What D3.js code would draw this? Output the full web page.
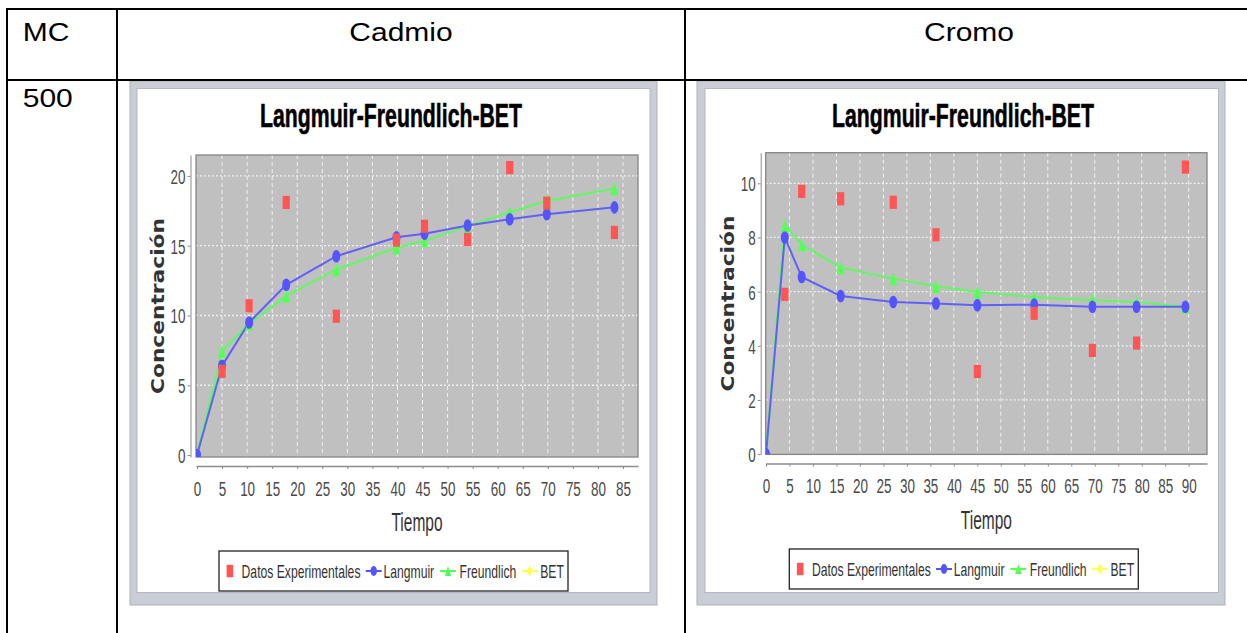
<!DOCTYPE html>
<html><head><meta charset="utf-8">
<script src="https://cdn.jsdelivr.net/npm/d3@7"></script>
<style>html,body{margin:0;padding:0;background:#fff;overflow:hidden}</style>
</head><body><svg id="c" width="1247" height="633"></svg>
<script>
// ---------- data ----------
const tiempoCd = [0, 5, 10.4, 17.8, 27.8, 39.8, 45.4, 54, 62.4, 69.8, 83.3];
const langmuirCd = [0, 6.4, 9.5, 12.2, 14.25, 15.6, 15.85, 16.45, 16.9, 17.25, 17.75];
const freundlichCd = [0, 7.45, 9.4, 11.4, 13.3, 14.85, 15.35, 16.4, 17.4, 18.2, 19.1];
const expTiempoCd = [5, 10.4, 17.8, 27.8, 39.8, 45.4, 54, 62.4, 69.8, 83.3];
const expCd = [6.0, 10.7, 18.1, 9.95, 15.4, 16.4, 15.45, 20.6, 18.05, 15.95];
const betCd = [];

const tiempoCr = [0, 4, 7.6, 15.9, 27.1, 36.2, 45, 57.1, 69.5, 78.9, 89.3];
const langmuirCr = [0, 8.0, 6.54, 5.84, 5.62, 5.56, 5.5, 5.52, 5.44, 5.44, 5.44];
const freundlichCr = [0, 8.45, 7.74, 6.89, 6.48, 6.2, 5.99, 5.8, 5.68, 5.62, 5.44];
const expTiempoCr = [4, 7.6, 15.9, 27.1, 36.2, 45, 57.1, 69.5, 78.9, 89.3];
const expCr = [5.9, 9.7, 9.43, 9.3, 8.1, 3.05, 5.2, 3.83, 4.1, 10.6];
const betCr = [];

const xTicksCd = [0, 5, 10, 15, 20, 25, 30, 35, 40, 45, 50, 55, 60, 65, 70, 75, 80, 85];
const yTicksCd = [0, 5, 10, 15, 20];
const xTicksCr = [0, 5, 10, 15, 20, 25, 30, 35, 40, 45, 50, 55, 60, 65, 70, 75, 80, 85, 90];
const yTicksCr = [0, 2, 4, 6, 8, 10];

const legendLabels = ["Datos Experimentales", "Langmuir", "Freundlich", "BET"];
const headerLabels = ["MC", "Cadmio", "Cromo"];
const rowLabels = ["500"];
const chartTitle = "Langmuir-Freundlich-BET";
const xLabel = "Tiempo";
const yLabel = "Concentración";

const COLORS = {exp: "#ff5555", lang: "#5555ff", fre: "#55ff55", bet: "#ffff55"};

// ---------- page ----------
const svg = d3.select("#c");
svg.append("rect").attr("width", 1247).attr("height", 633).attr("fill", "#fff");

function squash(sel, sx, dx, dy) {
  sel.attr("x", null).attr("y", null).attr("dy", null)
     .attr("transform", `translate(${dx},${dy}) scale(${sx},1)`);
}

// table text
const tf = "'Liberation Sans', Arial, sans-serif";
const hdr = [
  {t: headerLabels[0], x: 22.7, y: 40.5, a: "start"},
  {t: headerLabels[1], x: 401, y: 40.5, a: "middle"},
  {t: headerLabels[2], x: 969, y: 40.5, a: "middle"},
  {t: rowLabels[0], x: 22.7, y: 107, a: "start"}
];
hdr.forEach(h => {
  svg.append("text").text(h.t).attr("font-family", tf).attr("font-size", 25)
    .attr("fill", "#000").attr("text-anchor", h.a)
    .attr("transform", `translate(${h.x},${h.y}) scale(1.2,1)`);
});

function drawChart(cfg) {
  const g = svg.append("g");
  const F = cfg.frame, P = cfg.plot;
  // frame
  g.append("rect").attr("x", F.x0).attr("y", F.y0).attr("width", F.x1 - F.x0).attr("height", F.y1 - F.y0)
    .attr("fill", "#c9cdd5").attr("stroke", "#aeb2ba").attr("stroke-width", 1);
  g.append("rect").attr("x", F.wx0).attr("y", F.wy0).attr("width", F.wx1 - F.wx0).attr("height", F.wy1 - F.wy0)
    .attr("fill", "#fff").attr("stroke", "#b4b8c0").attr("stroke-width", 1);

  const x = d3.scaleLinear().domain(cfg.xDom).range([P.l, P.r]);
  const y = d3.scaleLinear().domain(cfg.yDom).range([P.b, P.t]);

  // title
  g.append("text").text(chartTitle).attr("x", cfg.titleX).attr("y", 126.5)
    .attr("text-anchor", "middle").attr("font-family", "'Liberation Sans', Arial, sans-serif")
    .attr("font-weight", "bold").attr("font-size", 33).attr("fill", "#000")
    .attr("stroke", "#000").attr("stroke-width", 0.6)
    .attr("textLength", 262).attr("lengthAdjust", "spacingAndGlyphs");

  // plot background
  g.append("rect").attr("x", P.l).attr("y", P.t).attr("width", P.r - P.l).attr("height", P.b - P.t)
    .attr("fill", "#c0c0c0");
  // grid
  g.append("g").selectAll("line").data(cfg.xTicks.filter(d => x(d) > P.l + 2 && x(d) < P.r - 2)).join("line")
    .attr("x1", d => x(d)).attr("x2", d => x(d)).attr("y1", P.t).attr("y2", P.b)
    .attr("stroke", "#f0f0f0").attr("stroke-width", 1).attr("stroke-dasharray", "4,3");
  g.append("g").selectAll("line").data(cfg.yTicks.filter(d => y(d) > P.t + 2 && y(d) < P.b - 2)).join("line")
    .attr("x1", P.l).attr("x2", P.r).attr("y1", d => y(d)).attr("y2", d => y(d))
    .attr("stroke", "#f0f0f0").attr("stroke-width", 1.3).attr("stroke-dasharray", "2,2");
  g.append("rect").attr("x", P.l).attr("y", P.t).attr("width", P.r - P.l).attr("height", P.b - P.t)
    .attr("fill", "none").attr("stroke", "#858585").attr("stroke-width", 1.3);

  // axes
  const ya = g.append("g").attr("transform", `translate(${cfg.yAxisX},0)`)
    .call(d3.axisLeft(y).tickValues(cfg.yTicks).tickSize(3).tickSizeOuter(0).tickFormat(d3.format("d")));
  ya.attr("font-family", "'Liberation Sans', Arial, sans-serif").attr("font-size", 21);
  ya.select(".domain").attr("stroke", "#8c8c8c");
  ya.selectAll(".tick line").attr("stroke", "#8c8c8c");
  ya.selectAll(".tick text").attr("fill", "#4a4a4a").attr("text-anchor", "end")
    .call(s => squash(s, 0.64, -5, 7.5));

  const xa = g.append("g").attr("transform", `translate(0,${cfg.xAxisY})`)
    .call(d3.axisBottom(x).tickValues(cfg.xTicks).tickSize(3).tickSizeOuter(0).tickFormat(d3.format("d")));
  xa.attr("font-family", "'Liberation Sans', Arial, sans-serif").attr("font-size", 21);
  xa.select(".domain").attr("stroke", "#8c8c8c").attr("stroke-width", 1.7);
  xa.selectAll(".tick line").attr("stroke", "#8c8c8c");
  xa.selectAll(".tick text").attr("fill", "#4a4a4a").attr("text-anchor", "middle")
    .call(s => squash(s, 0.64, 0, 29.5));

  // axis labels
  g.append("text").text(xLabel).attr("font-family", "'Liberation Sans', Arial, sans-serif")
    .attr("font-size", 25).attr("fill", "#333").attr("text-anchor", "middle")
    .attr("transform", `translate(${(P.l + P.r) / 2},${cfg.xLabelY}) scale(0.62,1)`);
  g.append("text").text(yLabel).attr("font-family", "'DejaVu Sans', sans-serif")
    .attr("font-weight", "bold").attr("font-size", 17).attr("fill", "#333").attr("text-anchor", "middle")
    .attr("textLength", 176).attr("lengthAdjust", "spacingAndGlyphs")
    .attr("transform", `translate(${cfg.yLabelX},${(P.t + P.b) / 2}) rotate(-90)`);

  // clip
  const cid = "clip" + cfg.id;
  svg.append("clipPath").attr("id", cid).append("rect")
    .attr("x", P.l).attr("y", P.t).attr("width", P.r - P.l).attr("height", P.b - P.t);
  const pg = g.append("g").attr("clip-path", `url(#${cid})`);

  const line = d3.line().x(d => x(d[0])).y(d => y(d[1]));
  const fre = cfg.tiempo.map((t, i) => [t, cfg.fre[i]]);
  const lang = cfg.tiempo.map((t, i) => [t, cfg.lang[i]]);
  const exp = cfg.expT.map((t, i) => [t, cfg.exp[i]]);
  const bet = cfg.bet.map((v, i) => [cfg.tiempo[i], v]);

  // lines pass (reverse series order)
  [[bet, COLORS.bet], [fre, COLORS.fre], [lang, COLORS.lang]].forEach(([d, c]) => {
    if (d.length) pg.append("path").datum(d).attr("d", line).attr("fill", "none")
      .attr("stroke", c).attr("stroke-width", 2).attr("stroke-opacity", 0.9);
  });
  // shapes pass
  pg.append("g").selectAll("path").data(fre).join("path")
    .attr("d", "M0,-6.7L4,6.7L-4,6.7Z").attr("fill", COLORS.fre)
    .attr("transform", d => `translate(${x(d[0])},${y(d[1])})`);
  pg.append("g").selectAll("ellipse").data(lang).join("ellipse")
    .attr("cx", d => x(d[0])).attr("cy", d => y(d[1])).attr("rx", 4).attr("ry", 6.3)
    .attr("fill", COLORS.lang);
  pg.append("g").selectAll("rect").data(exp).join("rect")
    .attr("x", d => x(d[0]) - 3.6).attr("y", d => y(d[1]) - 6.6).attr("width", 7.2).attr("height", 13.2)
    .attr("fill", COLORS.exp);

  // legend
  const L = g.append("g").attr("transform", `translate(${cfg.legX},${cfg.legY})`);
  L.append("rect").attr("width", 349).attr("height", 40).attr("fill", "#fff")
    .attr("stroke", "#222").attr("stroke-width", 1.3);
  const cy = 20;
  L.append("rect").attr("x", 7.6).attr("y", cy - 6.2).attr("width", 6.6).attr("height", 12.4).attr("fill", COLORS.exp);
  const mk = [
    {c: COLORS.lang, cx: 154.7, shape: "ellipse"},
    {c: COLORS.fre, cx: 229, shape: "tri"},
    {c: COLORS.bet, cx: 310.7, shape: "dia"}
  ];
  mk.forEach(m => {
    L.append("line").attr("x1", m.cx - 8).attr("x2", m.cx + 8).attr("y1", cy).attr("y2", cy)
      .attr("stroke", m.c).attr("stroke-width", 2);
    if (m.shape === "ellipse") L.append("ellipse").attr("cx", m.cx).attr("cy", cy).attr("rx", 3.2).attr("ry", 5).attr("fill", m.c);
    if (m.shape === "tri") L.append("path").attr("d", `M${m.cx},${cy - 5}L${m.cx + 3.2},${cy + 5}L${m.cx - 3.2},${cy + 5}Z`).attr("fill", m.c);
    if (m.shape === "dia") L.append("path").attr("d", `M${m.cx},${cy - 5.5}L${m.cx + 3.5},${cy}L${m.cx},${cy + 5.5}L${m.cx - 3.5},${cy}Z`).attr("fill", m.c);
  });
  const lx = [22.6, 164.5, 240.5, 321.2];
  legendLabels.forEach((t, i) => {
    L.append("text").text(t).attr("font-family", "'Liberation Sans', Arial, sans-serif")
      .attr("font-size", 19).attr("fill", "#333")
      .attr("transform", `translate(${lx[i]},${cy + 7}) scale(0.64,1)`);
  });
}

drawChart({
  id: "cd",
  frame: {x0: 130, y0: 81, x1: 657, y1: 605, wx0: 137, wy0: 88.5, wx1: 650, wy1: 592.5},
  plot: {l: 196, t: 155, r: 638, b: 457},
  xDom: [-0.2, 88.0], yDom: [-0.14, 21.5],
  xTicks: xTicksCd, yTicks: yTicksCd,
  yAxisX: 190.5, xAxisY: 466,
  titleX: 391, xLabelY: 531, yLabelX: 163.5,
  legX: 219, legY: 551,
  tiempo: tiempoCd, lang: langmuirCd, fre: freundlichCd, expT: expTiempoCd, exp: expCd, bet: betCd
});
drawChart({
  id: "cr",
  frame: {x0: 697, y0: 81, x1: 1225, y1: 605, wx0: 705, wy0: 88.5, wx1: 1218.5, wy1: 592.5},
  plot: {l: 765.7, t: 152.7, r: 1207, b: 454.4},
  xDom: [-0.06, 93.9], yDom: [-0.01, 11.13],
  xTicks: xTicksCr, yTicks: yTicksCr,
  yAxisX: 760.7, xAxisY: 463.5,
  titleX: 963, xLabelY: 529, yLabelX: 734.3,
  legX: 789.3, legY: 549,
  tiempo: tiempoCr, lang: langmuirCr, fre: freundlichCr, expT: expTiempoCr, exp: expCr, bet: betCr
});

// table lines
const tl = svg.append("g").attr("stroke", "#000").attr("stroke-width", 2);
[[6, 9, 1247, 9], [6, 80, 1247, 80], [7, 8, 7, 633], [117, 8, 117, 633], [685, 8, 685, 633]].forEach(l => {
  tl.append("line").attr("x1", l[0]).attr("y1", l[1]).attr("x2", l[2]).attr("y2", l[3]);
});
</script></body></html>
